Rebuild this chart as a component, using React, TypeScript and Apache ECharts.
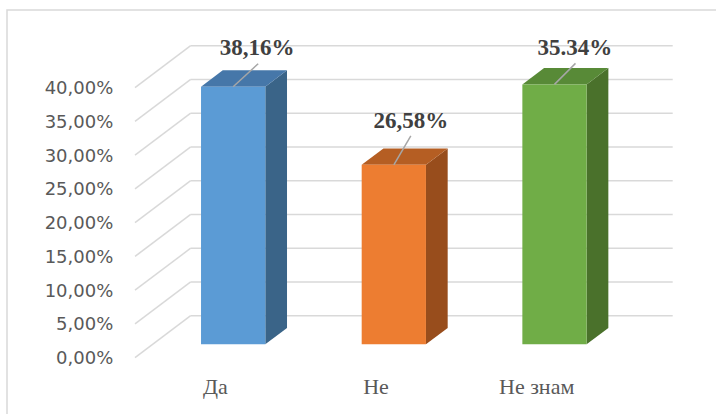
import React, { useEffect, useRef } from "react";
import * as echarts from "echarts";

const categories = ["Да", "Не", "Не знам"];
const barValues = [38.16, 26.58, 38.5];
const barLabels = ["38,16%", "26,58%", "35.34%"];
const tickValues = [0, 5, 10, 15, 20, 25, 30, 35, 40];

const faceColors = ["#5b9bd5", "#ed7d31", "#70ad47"];
const topColors = ["#4677a9", "#b55e23", "#588a37"];
const sideColors = ["#3a6488", "#984d1c", "#4a712b"];
// label placement relative to the top-front centre of each bar: [textDx, textDy, lineDx, lineDy]
const labelPlacement = [
  [24, -39, 25, -23],
  [17, -44, 17, -29],
  [20.5, -37, 21, -21],
];

const SERIF = "Liberation Serif";
const SANS = "DejaVu Sans";

const DX = 55.7;
const DY = 42;
const BAR_OFF = 0.32;
const BAR_DEPTH = 0.39;

export default function App() {
  const ref = useRef<HTMLDivElement>(null);
  useEffect(() => {
    document.body.style.margin = "0";
    const chart = echarts.init(ref.current!, null, { renderer: "svg" });
    chart.setOption({
      animation: false,
      backgroundColor: "#ffffff",
      graphic: [
        {
          type: "rect",
          shape: { x: 7, y: 10, width: 800, height: 500 },
          style: { fill: "none", stroke: "#d9d9d9", lineWidth: 1.5 },
          silent: true,
          z: 0,
        },
      ],
      grid: { left: 135, right: 99, top: 87.7, bottom: 56.3 },
      xAxis: {
        type: "category",
        data: categories,
        axisLine: { show: false },
        axisTick: { show: false },
        splitLine: { show: false },
        axisLabel: { fontFamily: SERIF, fontSize: 22, color: "#595959", margin: 18 },
      },
      yAxis: {
        type: "value",
        min: 0,
        max: 40,
        interval: 5,
        axisLine: { show: false },
        axisTick: { show: false },
        splitLine: { show: false },
        axisLabel: {
          fontFamily: SANS,
          fontSize: 18,
          color: "#595959",
          margin: 21.7,
          formatter: (v: number) => v.toFixed(2).replace(".", ",") + "%",
        },
      },
      series: [
        {
          type: "custom",
          silent: true,
          z: 1,
          data: tickValues.map((v) => [0, v]),
          renderItem: (params: any, api: any) => {
            const cs = params.coordSys;
            const y = api.coord([0, api.value(1)])[1];
            const style = { stroke: "#d9d9d9", lineWidth: 1.5, fill: "none" };
            return {
              type: "group",
              children: [
                { type: "line", shape: { x1: cs.x, y1: y, x2: cs.x + DX, y2: y - DY }, style },
                { type: "line", shape: { x1: cs.x + DX, y1: y - DY, x2: cs.x + cs.width + DX, y2: y - DY }, style },
              ],
            };
          },
        },
        {
          type: "custom",
          z: 2,
          data: barValues.map((v, i) => [i, v]),
          renderItem: (params: any, api: any) => {
            const i = api.value(0);
            const v = api.value(1);
            const base = api.coord([i, 0]);
            const top = api.coord([i, v]);
            const band = api.size([1, 0])[0];
            const w = band * 0.4;
            const ox = DX * BAR_OFF;
            const oy = DY * BAR_OFF;
            const dx = DX * BAR_DEPTH;
            const dy = DY * BAR_DEPTH;
            const x0 = base[0] - w / 2 + ox;
            const x1 = x0 + w;
            const yB = base[1] - oy;
            const yT = top[1] - oy;
            const cx = (x0 + x1) / 2;
            const lp = labelPlacement[i];
            return {
              type: "group",
              children: [
                { type: "polygon", shape: { points: [[x1, yT], [x1 + dx, yT - dy], [x1 + dx, yB - dy], [x1, yB]] }, style: { fill: sideColors[i] } },
                { type: "polygon", shape: { points: [[x0, yT], [x1, yT], [x1 + dx, yT - dy], [x0 + dx, yT - dy]] }, style: { fill: topColors[i] } },
                { type: "rect", shape: { x: x0, y: yT, width: w, height: yB - yT }, style: { fill: faceColors[i] } },
                { type: "line", shape: { x1: cx, y1: yT, x2: cx + lp[2], y2: yT + lp[3] }, style: { stroke: "#a6a6a6", lineWidth: 1.5 } },
                {
                  type: "text",
                  x: cx + lp[0],
                  y: yT + lp[1],
                  style: { text: barLabels[i], fontFamily: SERIF, fontWeight: "bold", fontSize: 23, fill: "#404040", align: "center", verticalAlign: "middle" },
                },
              ],
            };
          },
        },
      ],
    });
    return () => chart.dispose();
  }, []);
  return <div ref={ref} style={{ width: 716, height: 414 }} />;
}
